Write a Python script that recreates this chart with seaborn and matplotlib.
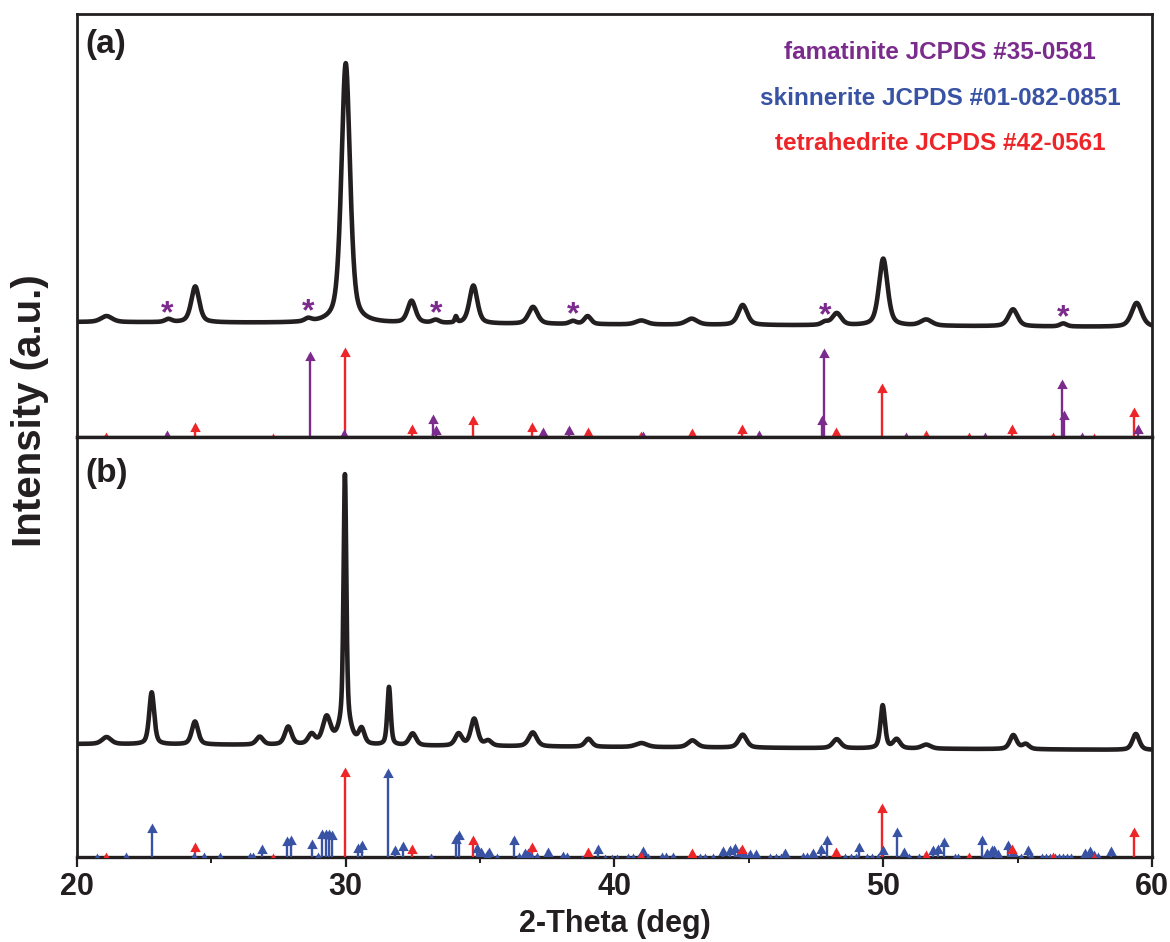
import numpy as np
import pandas as pd
import matplotlib
matplotlib.use("Agg")
import matplotlib.pyplot as plt
from matplotlib.path import Path
import seaborn as sns

# ---------------- measured pattern (a): peak centre, height (counts), FWHM ----------------
a_pos = [21.1, 23.4, 24.4, 28.6, 30.0, 32.45, 33.35, 34.1, 34.75, 36.97, 38.45, 39.0,
         41.0, 42.87, 44.77, 47.83, 48.27, 50.0, 51.6, 54.83, 56.7, 59.43]
a_hgt = [6, 3, 36, 3, 260, 22, 3, 6, 38, 17, 3, 8,
         4, 6, 20, 3, 12, 67, 6, 17, 3, 24]
a_fwhm = [0.5, 0.3, 0.35, 0.3, 0.38, 0.35, 0.3, 0.1, 0.35, 0.4, 0.3, 0.3,
          0.5, 0.5, 0.4, 0.3, 0.4, 0.38, 0.5, 0.4, 0.3, 0.45]
a_background = (115, 110)

# ---------------- measured pattern (b) ----------------
b_pos = [21.1, 22.78, 24.39, 26.8, 27.86, 28.73, 29.29, 29.97, 29.97, 30.59, 31.61, 32.49,
         34.2, 34.78, 35.3, 36.96, 39.03, 41.0, 42.9, 44.77, 48.27, 49.98, 50.5, 51.6,
         54.84, 55.3, 59.4]
b_hgt = [7, 52, 23, 8, 18, 10, 27, 245, 25, 15, 58, 12,
         12, 27, 5, 14, 8, 4, 7, 13, 9, 43, 9, 4,
         14, 5, 16]
b_fwhm = [0.4, 0.22, 0.28, 0.3, 0.3, 0.3, 0.35, 0.12, 0.5, 0.25, 0.15, 0.3,
          0.3, 0.3, 0.3, 0.35, 0.3, 0.5, 0.4, 0.35, 0.35, 0.2, 0.3, 0.4,
          0.3, 0.3, 0.3]
b_background = (113, 107)

# famatinite reflections flagged in (a)
star_pos = [23.35, 28.6, 33.35, 38.45, 47.83, 56.7]

# ---------------- reference cards (relative intensity, %) ----------------
fam_pos = [23.36, 28.67, 29.92, 33.26, 33.36, 37.35, 38.29, 41.05, 45.38, 47.74, 47.79,
           50.85, 53.79, 56.66, 56.74, 57.38, 59.47]
fam_int = [8, 96, 9, 26, 13, 11, 13, 7, 8, 24, 99,
           6, 6, 64, 30, 6, 14]

tet_pos = [21.08, 24.38, 27.3, 29.97, 32.45, 34.72, 36.94, 39.0, 41.0, 42.9, 44.73,
           48.24, 49.94, 51.6, 53.2, 54.78, 56.33, 57.85, 59.34]
tet_int = [6, 17, 4, 100, 14, 24, 17, 11, 7, 10, 14,
           11, 60, 8, 6, 15, 6, 4, 33]

ski_pos = [20.73, 21.81, 22.78, 24.37, 24.71, 25.32, 26.44, 26.55, 26.87, 27.80, 27.96,
           28.73, 28.98, 29.13, 29.25, 29.38, 29.50, 30.47, 30.59, 31.56, 31.83, 32.14,
           33.17, 34.10, 34.23, 34.87, 35.05, 35.24, 35.34, 35.61, 36.27, 36.45, 36.67,
           36.77, 36.92, 37.10, 37.51, 38.10, 38.23, 38.80, 39.40, 39.65, 39.90, 40.10,
           40.52, 40.70, 40.90, 41.07, 41.23, 41.75, 41.93, 42.18, 42.80, 43.17, 43.35,
           43.66, 44.05, 44.30, 44.48, 44.67, 44.83, 45.04, 45.25, 45.80, 46.00, 46.20,
           46.34, 47.00, 47.15, 47.30, 47.40, 47.70, 47.90, 48.56, 48.80, 48.99, 49.10,
           49.40, 49.60, 49.80, 49.98, 50.50, 50.78, 50.96, 51.33, 51.86, 52.03, 52.27,
           52.67, 52.80, 53.69, 53.86, 54.04, 54.13, 54.26, 54.63, 54.84, 55.13, 55.37,
           55.50, 55.90, 56.05, 56.20, 56.40, 56.55, 56.70, 56.85, 57.00, 57.50, 57.69,
           57.85, 58.00, 58.47]
ski_int = [4, 6, 38, 6, 6, 6, 6, 6, 14, 23, 24,
           20, 6, 31, 31, 31, 30, 16, 19, 99, 13, 18,
           4, 26, 30, 16, 11, 8, 11, 4, 24, 6, 10,
           10, 4, 6, 11, 7, 6, 2, 14, 3, 3, 3,
           4, 4, 4, 12, 4, 6, 6, 6, 4, 4, 4,
           4, 12, 13, 16, 11, 9, 9, 9, 4, 4, 4,
           10, 6, 6, 6, 10, 14, 24, 4, 4, 4, 17,
           4, 4, 4, 13, 33, 11, 4, 4, 13, 14, 22,
           4, 4, 24, 10, 13, 13, 9, 19, 11, 4, 13,
           6, 4, 4, 4, 4, 4, 4, 4, 4, 10, 12,
           8, 6, 12]

card_labels = ["famatinite JCPDS #35-0581",
               "skinnerite JCPDS #01-082-0851",
               "tetrahedrite JCPDS #42-0561"]

# ---------------- style ----------------
PURPLE = "#7B2B8C"
BLUE = "#3852A4"
RED = "#EE2528"
INK = "#231F20"

sns.set_style("ticks")
plt.rcParams["font.family"] = ["Liberation Sans", "DejaVu Sans"]
plt.rcParams["font.weight"] = "bold"

STICK_SCALE = 0.9  # counts per % of relative intensity
two_theta = np.linspace(20, 60, 8001)


def profile(x, pos, hgt, fwhm, background, eta=0.5):
    base = np.interp(x, [20, 60], background)
    y = base.copy()
    for p, h, w in zip(pos, hgt, fwhm):
        d = (x - p) / (w / 2)
        lor = 1.0 / (1.0 + d ** 2)
        gau = np.exp(-np.log(2) * d ** 2)
        y += h * (eta * lor + (1 - eta) * gau)
    return y


# arrowhead marker whose tip sits exactly on the data point
tip = Path([(-0.55, -1.0), (0.55, -1.0), (0.0, 0.0), (-0.55, -1.0)],
           [Path.MOVETO, Path.LINETO, Path.LINETO, Path.CLOSEPOLY])


def draw_card(ax, pos, inten, color):
    h = np.asarray(inten) * STICK_SCALE
    ax.vlines(pos, 0, h - 3, color=color, lw=1.7, zorder=3)
    sns.scatterplot(x=pos, y=h, ax=ax, marker=tip, s=190, color=color,
                    linewidth=0, zorder=4, legend=False)


fig, (ax_a, ax_b) = plt.subplots(
    2, 1, sharex=True, figsize=(11.7, 9.42), dpi=100,
    gridspec_kw=dict(height_ratios=[423, 420], hspace=0))
fig.subplots_adjust(left=0.0658, right=0.9846, top=0.9851, bottom=0.0902)

pat_a = pd.DataFrame({"two_theta": two_theta,
                      "I": profile(two_theta, a_pos, a_hgt, a_fwhm, a_background)})
pat_b = pd.DataFrame({"two_theta": two_theta,
                      "I": profile(two_theta, b_pos, b_hgt, b_fwhm, b_background)})

sns.lineplot(data=pat_a, x="two_theta", y="I", ax=ax_a, color=INK, lw=3.3,
             estimator=None, sort=False, zorder=5)
sns.lineplot(data=pat_b, x="two_theta", y="I", ax=ax_b, color=INK, lw=3.3,
             estimator=None, sort=False, zorder=5)

draw_card(ax_a, tet_pos, tet_int, RED)
draw_card(ax_a, fam_pos, fam_int, PURPLE)
draw_card(ax_b, ski_pos, ski_int, BLUE)
draw_card(ax_b, tet_pos, tet_int, RED)

# asterisks over the famatinite reflections
star_y = np.interp(star_pos, two_theta, pat_a["I"].to_numpy())
for xs, ys in zip(star_pos, star_y):
    ax_a.text(xs, ys - 3, "*", color=PURPLE, fontsize=23, fontweight="bold",
              ha="center", va="baseline", zorder=6)

ax_a.set_ylim(0, 423)
ax_b.set_ylim(0, 420)
ax_b.set_xlim(20, 60)
ax_b.set_xticks([20, 30, 40, 50, 60])
ax_b.set_xticks([25, 35, 45, 55], minor=True)

for ax in (ax_a, ax_b):
    ax.set_yticks([])
    ax.set_ylabel("")
    ax.set_xlabel("")
    for side, sp in ax.spines.items():
        sp.set_visible(True)
        sp.set_color(INK)
        sp.set_linewidth(2.0)
ax_a.spines["bottom"].set_linewidth(2.4)
ax_b.spines["top"].set_linewidth(2.4)
ax_b.spines["bottom"].set_linewidth(2.4)
ax_a.tick_params(axis="x", which="both", bottom=False, labelbottom=False)

ax_b.tick_params(axis="x", which="major", direction="out", length=7, width=1.6,
                 colors=INK, pad=4, labelsize=22)
ax_b.tick_params(axis="x", which="minor", direction="out", length=4, width=1.4,
                 colors=INK)
for lab in ax_b.get_xticklabels():
    lab.set_fontweight("bold")

ax_b.set_xlabel("2-Theta (deg)", fontsize=22, fontweight="bold", color=INK,
                labelpad=5)
fig.text(0.026, 0.564, "Intensity (a.u.)", rotation=90, fontsize=29,
         fontweight="bold", color=INK, ha="center", va="center")

ax_a.text(0.008, 0.929, "(a)", transform=ax_a.transAxes, fontsize=24,
          fontweight="bold", color=INK, ha="left", va="center")
ax_b.text(0.008, 0.914, "(b)", transform=ax_b.transAxes, fontsize=24,
          fontweight="bold", color=INK, ha="left", va="center")

for label, color, yfrac in zip(card_labels, [PURPLE, BLUE, RED], [0.908, 0.801, 0.695]):
    ax_a.text(0.803, yfrac, label, transform=ax_a.transAxes, fontsize=17.5,
              fontweight="bold", color=color, ha="center", va="center")

fig.savefig("out.png", dpi=100)
